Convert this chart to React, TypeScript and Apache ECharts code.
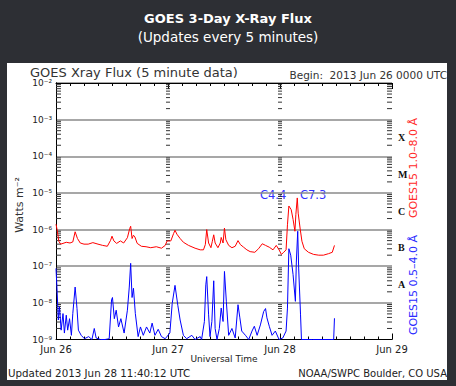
import { useEffect, useRef } from "react";
import * as echarts from "echarts";

// ---- data (hours since 2013 Jun 26 00:00 UTC, flux in W m^-2) ----
const longTimes = [
  0.0, 0.3, 0.6, 1.0, 1.5, 2.2, 3.0, 3.6, 4.1, 4.6, 5.2, 6.0, 6.9, 7.9, 9.0, 10.0, 11.0, 11.7, 12.0, 12.4,
  13.0, 13.8, 14.5, 15.3, 15.8, 16.0, 16.3, 16.6, 16.9, 17.4, 18.3, 19.3, 20.3, 21.5, 22.6, 23.4, 23.8, 24.6,
  25.2, 25.5, 25.9, 26.6, 27.3, 28.4, 29.8, 30.9, 31.6, 32.0, 32.3, 32.7, 33.2, 33.5, 33.8, 34.1, 34.7, 35.2,
  35.4, 35.8, 36.1, 36.4, 37.0, 37.7, 38.4, 39.0, 39.5, 40.2, 40.9, 41.6, 42.6, 43.4, 44.2, 44.9, 45.7, 46.5,
  47.2, 47.8, 48.3, 48.8, 49.3, 49.6, 49.9, 50.4, 50.8, 51.2, 51.4, 51.7, 51.9, 52.3, 52.7, 53.2, 54.1, 55.2,
  56.3, 57.3, 58.4, 59.2, 59.67,
];
const longFlux = [
  1.4e-6, 9.0e-7, 4.8e-7, 4.0e-7, 4.2e-7, 4.5e-7, 4.3e-7, 4.6e-7, 8.7e-7, 5.7e-7, 4.3e-7, 4.0e-7, 4.0e-7, 4.4e-7,
  4.0e-7, 3.7e-7, 3.5e-7, 5.1e-7, 6.6e-7, 4.9e-7, 4.2e-7, 4.9e-7, 4.3e-7, 6.0e-7, 1.07e-6, 1.23e-6, 5.7e-7,
  7.0e-7, 6.3e-7, 4.2e-7, 3.5e-7, 3.4e-7, 3.2e-7, 3.4e-7, 3.1e-7, 3.7e-7, 4.9e-7, 4.9e-7, 7.8e-7, 9.6e-7,
  7.5e-7, 5.7e-7, 4.5e-7, 3.7e-7, 3.1e-7, 2.8e-7, 2.8e-7, 3.9e-7, 1.0e-6, 4.3e-7, 3.2e-7, 4.8e-7, 7.2e-7,
  4.3e-7, 3.2e-7, 4.3e-7, 6.1e-7, 4.3e-7, 1.1e-6, 5.3e-7, 3.7e-7, 3.2e-7, 3.5e-7, 5.0e-7, 3.9e-7, 3.3e-7,
  2.8e-7, 2.5e-7, 2.4e-7, 3.0e-7, 4.1e-7, 3.7e-7, 3.3e-7, 2.8e-7, 3.7e-7, 2.8e-7, 2.1e-7, 2.4e-7, 2.8e-7,
  1.35e-6, 4.4e-6, 3.5e-6, 1.9e-6, 9.0e-7, 2.6e-6, 7.3e-6, 2.8e-6, 1.1e-6, 4.8e-7, 3.0e-7, 2.4e-7, 2.1e-7,
  2.0e-7, 2.0e-7, 2.2e-7, 2.4e-7, 3.7e-7,
];
const shortTimes = [
  0.0, 0.2, 0.5, 0.75, 1.1, 1.5, 1.8, 2.2, 2.5, 2.9, 3.3, 3.6, 4.1, 4.5, 4.8, 5.4, 6.1, 7.0, 7.7, 8.2, 8.6, 9.5,
  10.5, 11.4, 11.9, 12.1, 12.5, 12.9, 13.4, 13.9, 14.6, 15.3, 15.7, 16.0, 16.3, 16.6, 17.0, 17.6, 18.1, 18.7,
  19.4, 20.1, 20.6, 21.2, 21.9, 22.6, 23.4, 24.4, 24.9, 25.5, 26.1, 26.6, 27.3, 28.0, 29.1, 29.8, 30.9, 31.2,
  31.8, 32.1, 32.3, 32.7, 33.0, 33.4, 33.8, 34.1, 34.5, 35.0, 35.4, 35.8, 36.1, 36.5, 37.0, 37.7, 38.4, 39.0,
  39.4, 39.8, 40.6, 41.3, 42.0, 42.5, 43.1, 43.8, 44.5, 44.9, 45.2, 45.7, 46.3, 47.0, 47.8, 48.6, 49.3, 49.6,
  49.9, 50.3, 50.8, 51.3, 51.5, 51.8, 52.0, 52.4, 52.6, 55.0, 58.9, 59.5, 59.67,
];
const shortFlux = [
  8.7e-8, 2.7e-8, 3.4e-9, 7.8e-9, 1.8e-9, 5.1e-9, 1.5e-9, 4.6e-9, 1.8e-9, 3.7e-9, 1.3e-9, 5.1e-9, 2.7e-8, 7.0e-9,
  1.8e-9, 1.3e-9, 1.05e-9, 1.2e-9, 1.0e-9, 2.0e-9, 1.1e-9, 1.0e-9, 1.0e-9, 1.05e-9, 1.2e-8, 1.4e-8, 3.7e-9,
  6.3e-9, 2.2e-9, 3.7e-9, 1.5e-9, 6.3e-9, 2.7e-8, 1.2e-7, 1.4e-8, 2.5e-8, 5.1e-9, 1.2e-9, 2.2e-9, 1.3e-9,
  2.2e-9, 1.5e-9, 2.8e-9, 1.3e-9, 1.9e-9, 1.2e-9, 1.05e-9, 1.5e-9, 9.6e-9, 3.0e-8, 8.6e-9, 3.4e-9, 1.3e-9,
  1.05e-9, 1.3e-9, 1.0e-9, 1.2e-9, 1.0e-9, 3.1e-9, 3.1e-8, 5.2e-8, 4.7e-9, 1.2e-9, 3.1e-9, 4.0e-8, 2.0e-9,
  1.0e-9, 2.0e-9, 7.2e-9, 3.1e-9, 7.2e-8, 1.1e-8, 1.3e-9, 2.0e-9, 1.1e-9, 8.9e-9, 3.9e-9, 1.7e-9, 1.3e-9,
  1.0e-9, 1.7e-9, 2.3e-9, 1.3e-9, 2.5e-9, 5.8e-9, 7.0e-9, 3.9e-9, 2.3e-9, 1.3e-9, 1.7e-9, 1.0e-9, 1.1e-9,
  1.7e-9, 7.2e-9, 3.0e-7, 2.0e-7, 5.9e-8, 1.1e-8, 1.3e-7, 9.0e-7, 8.9e-8, 4.7e-9, 1.0e-9, 1.0e-9, 1.0e-9,
  1.0e-9, 3.8e-9,
];

const dayLabels = ["Jun 26", "Jun 27", "Jun 28", "Jun 29"];
const classLetters = ["A", "B", "C", "M", "X"];
const classCenters = [-7.5, -6.5, -5.5, -4.5, -3.5];
const decadeExps = [-9, -8, -7, -6, -5, -4, -3];
const minorMultipliers = [2, 3, 4, 5, 6, 7, 8, 9];
const tickColumns = [
  { hour: 0, dir: 1 },
  { hour: 24, dir: 0 },
  { hour: 48, dir: 0 },
  { hour: 72, dir: -1 },
];
const flareLabels = ["C4.4", "C7.3"];

const SUP: Record<string, string> = {
  "-": "\u207B", "0": "\u2070", "1": "\u00B9", "2": "\u00B2", "3": "\u00B3",
  "4": "\u2074", "5": "\u2075", "6": "\u2076", "7": "\u2077", "8": "\u2078", "9": "\u2079",
};
const sup = (s: string) => s.split("").map((c) => SUP[c] ?? c).join("");

const FONT = "DejaVu Sans";

function buildOption() {
  const longData = longTimes.map((t, i) => [t, longFlux[i]]);
  const shortData = shortTimes.map((t, i) => [t, shortFlux[i]]);
  const tickData: number[][] = [];
  for (const e of decadeExps) {
    for (const m of minorMultipliers) {
      const v = m * Math.pow(10, e);
      for (const c of tickColumns) tickData.push([c.hour, v, c.dir]);
    }
  }

  const xCommon = {
    type: "value" as const,
    min: 0,
    max: 72,
    interval: 24,
    axisLine: { show: true, lineStyle: { color: "#000", width: 1 } },
    axisTick: { show: true, inside: true, length: 6, lineStyle: { color: "#000", width: 1 } },
    minorTick: { show: true, splitNumber: 8, length: 3, lineStyle: { color: "#000", width: 1 } },
    splitLine: { show: false },
  };

  const text = (
    t: string, x: number, y: number, size: number, fill: string,
    align: string, extra: Record<string, unknown> = {}, weight = "normal", family = FONT,
  ) => ({
    type: "text",
    x,
    y,
    silent: true,
    ...extra,
    style: {
      text: t,
      fill,
      fontSize: size,
      fontFamily: family,
      fontWeight: weight,
      align,
      textAlign: align,
      verticalAlign: "middle",
      textVerticalAlign: "middle",
    },
  });

  return {
    animation: false,
    backgroundColor: "#2d2f34",
    grid: {
      left: 56,
      top: 83,
      width: 336,
      height: 256.5,
      containLabel: false,
      outerBoundsMode: "none",
    },
    xAxis: [
      {
        ...xCommon,
        position: "bottom",
        axisLabel: {
          formatter: (v: number) => dayLabels[Math.round(v / 24)] ?? "",
          color: "#222",
          fontSize: 10,
          fontFamily: FONT,
          margin: 5,
        },
      },
      { ...xCommon, position: "top", axisLabel: { show: false } },
    ],
    yAxis: [
      {
        type: "log",
        logBase: 10,
        min: 1e-9,
        max: 1e-2,
        splitNumber: 7,
        position: "left",
        axisLine: { show: true, lineStyle: { color: "#000", width: 1 } },
        axisTick: { show: false },
        splitLine: {
          show: true,
          showMinLine: false,
          showMaxLine: false,
          lineStyle: { color: "#8a8a8a", width: 1.5 },
        },
        axisLabel: {
          formatter: (v: number) => "10" + sup(String(Math.round(Math.log10(v)))),
          color: "#222",
          fontSize: 9,
          fontFamily: FONT,
          margin: 4,
        },
      },
      {
        type: "value",
        min: -9,
        max: -2,
        interval: 0.5,
        position: "right",
        axisLine: { show: true, lineStyle: { color: "#000", width: 1 } },
        axisTick: { show: false },
        splitLine: { show: false },
        axisLabel: {
          formatter: (v: number) => {
            const i = classCenters.indexOf(v);
            return i >= 0 ? classLetters[i] : "";
          },
          color: "#111",
          fontSize: 10,
          fontWeight: "bold",
          fontFamily: "Liberation Serif",
          margin: 6,
        },
      },
    ],
    series: [
      {
        type: "custom",
        name: "log minor ticks",
        xAxisIndex: 0,
        yAxisIndex: 0,
        silent: true,
        z: 1,
        data: tickData,
        renderItem: (_p: unknown, api: any) => {
          const pt = api.coord([api.value(0), api.value(1)]);
          const dir = api.value(2);
          const len = dir === 0 ? 4 : 5;
          let x1 = pt[0], x2 = pt[0];
          if (dir === 1) x2 = pt[0] + len;
          else if (dir === -1) x1 = pt[0] - len;
          else { x1 = pt[0] - len / 2; x2 = pt[0] + len / 2; }
          return {
            type: "line",
            shape: { x1, y1: pt[1], x2, y2: pt[1] },
            style: { stroke: "#333", lineWidth: 1 },
          };
        },
      },
      {
        type: "line",
        name: "GOES15 0.5-4.0 A",
        data: shortData,
        symbol: "none",
        showSymbol: false,
        clip: true,
        silent: true,
        z: 3,
        lineStyle: { color: "#0000ff", width: 1 },
      },
      {
        type: "line",
        name: "GOES15 1.0-8.0 A",
        data: longData,
        symbol: "none",
        showSymbol: false,
        clip: true,
        silent: true,
        z: 4,
        lineStyle: { color: "#ff0000", width: 1 },
      },
    ],
    graphic: {
      elements: [
        {
          type: "rect",
          z: -10,
          silent: true,
          shape: { x: 7, y: 63, width: 440, height: 317 },
          style: { fill: "#ffffff" },
        },
        text("GOES 3-Day X-Ray Flux", 228, 18, 13, "#ffffff", "center", {}, "bold"),
        text("(Updates every 5 minutes)", 228, 37, 13.5, "#ffffff", "center"),
        text("GOES Xray Flux (5 minute data)", 30, 72, 13, "#333", "left"),
        text("Begin:  2013 Jun 26 0000 UTC", 447, 75, 10.5, "#333", "right"),
        text("Watts m" + sup("-2"), 19, 205, 11, "#333", "center", { rotation: Math.PI / 2 }),
        text("GOES15 1.0\u20138.0 \u00C5", 413, 168, 11, "#ff2a2a", "center", { rotation: Math.PI / 2 }),
        text("GOES15 0.5\u20134.0 \u00C5", 413, 285, 11, "#2a2aff", "center", { rotation: Math.PI / 2 }),
        text(flareLabels[0], 260, 195, 11.5, "#3333ff", "left"),
        text(flareLabels[1], 300, 195, 11.5, "#3333ff", "left"),
        text("Universal Time", 224, 359, 9, "#222", "center"),
        text("Updated 2013 Jun 28 11:40:12 UTC", 8, 373, 10.3, "#222", "left"),
        text("NOAA/SWPC Boulder, CO USA", 447, 373, 10, "#222", "right"),
      ],
    },
  };
}

export default function App() {
  const ref = useRef<HTMLDivElement>(null);
  useEffect(() => {
    document.body.style.margin = "0";
    const chart = echarts.init(ref.current!, null, { renderer: "svg" });
    chart.setOption(buildOption() as any);
    return () => chart.dispose();
  }, []);
  return <div ref={ref} style={{ width: 456, height: 386 }} />;
}
